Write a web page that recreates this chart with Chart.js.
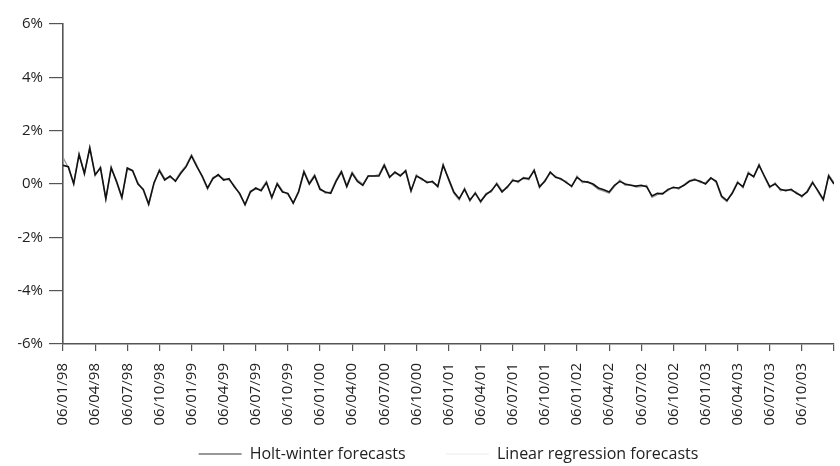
<!DOCTYPE html>
<html>
<head>
<meta charset="utf-8">
<script src="https://cdn.jsdelivr.net/npm/chart.js@4/dist/chart.umd.min.js"></script>
<style>
  html, body { margin: 0; padding: 0; background: #ffffff; }
  #wrap { width: 840px; height: 466px; }
</style>
</head>
<body>
<div id="wrap"><canvas id="c" width="840" height="466"></canvas></div>
<script>
// ---- data ----
const quarterLabels = [
  '06/01/98','06/04/98','06/07/98','06/10/98',
  '06/01/99','06/04/99','06/07/99','06/10/99',
  '06/01/00','06/04/00','06/07/00','06/10/00',
  '06/01/01','06/04/01','06/07/01','06/10/01',
  '06/01/02','06/04/02','06/07/02','06/10/02',
  '06/01/03','06/04/03','06/07/03','06/10/03'
];
const pointsPerQuarter = 6;
const yTicks = [-6, -4, -2, 0, 2, 4, 6];
const seriesNames = ['Holt-winter forecasts', 'Linear regression forecasts'];

const holtWinter = [
  0.7, 0.65, 0.0, 1.1, 0.4, 1.35,
  0.35, 0.6, -0.55, 0.6, 0.1, -0.5,
  0.6, 0.5, 0.0, -0.2, -0.75, 0.05,
  0.5, 0.15, 0.3, 0.1, 0.4, 0.65,
  1.05, 0.65, 0.3, -0.15, 0.2, 0.35,
  0.15, 0.2, -0.1, -0.35, -0.78, -0.3,
  -0.15, -0.25, 0.05, -0.5, 0.0, -0.3,
  -0.35, -0.72, -0.3, 0.45, 0.0, 0.3,
  -0.2, -0.3, -0.35, 0.1, 0.45, -0.1,
  0.4, 0.1, -0.05, 0.3, 0.3, 0.3,
  0.7, 0.25, 0.45, 0.3, 0.5, -0.25,
  0.3, 0.2, 0.05, 0.1, -0.1, 0.7,
  0.2, -0.3, -0.55, -0.2, -0.6, -0.35,
  -0.65, -0.4, -0.25, 0.0, -0.3, -0.1,
  0.13, 0.1, 0.22, 0.2, 0.5, -0.1,
  0.1, 0.45, 0.25, 0.2, 0.05, -0.08,
  0.25, 0.1, 0.07, 0.0, -0.15, -0.22,
  -0.3, -0.05, 0.1, 0.0, -0.05, -0.08,
  -0.05, -0.1, -0.45, -0.35, -0.37, -0.2,
  -0.13, -0.15, -0.05, 0.1, 0.16, 0.1,
  0.0, 0.22, 0.1, -0.45, -0.62, -0.35,
  0.05, -0.1, 0.4, 0.28, 0.7, 0.3,
  -0.1, 0.0, -0.2, -0.25, -0.2, -0.35,
  -0.45, -0.3, 0.05, -0.25, -0.58, 0.3,
  0.0
];
const linearRegression = [
  1.0, 0.6, 0.05, 1.15, 0.35, 1.4,
  0.3, 0.65, -0.6, 0.65, 0.05, -0.55,
  0.55, 0.5, 0.05, -0.25, -0.8, 0.0,
  0.55, 0.2, 0.25, 0.15, 0.45, 0.7,
  1.1, 0.7, 0.25, -0.2, 0.25, 0.3,
  0.2, 0.15, -0.05, -0.4, -0.75, -0.25,
  -0.2, -0.2, 0.1, -0.55, 0.05, -0.25,
  -0.4, -0.7, -0.25, 0.5, 0.05, 0.35,
  -0.15, -0.35, -0.3, 0.15, 0.5, -0.05,
  0.45, 0.15, 0.0, 0.3, 0.3, 0.35,
  0.75, 0.3, 0.4, 0.35, 0.45, -0.3,
  0.35, 0.15, 0.1, 0.05, -0.05, 0.75,
  0.15, -0.35, -0.6, -0.15, -0.65, -0.3,
  -0.7, -0.35, -0.3, 0.05, -0.25, -0.15,
  0.18, 0.05, 0.25, 0.15, 0.55, -0.15,
  0.15, 0.4, 0.3, 0.15, 0.1, -0.12,
  0.3, 0.05, 0.1, -0.05, -0.2, -0.27,
  -0.35, -0.1, 0.15, -0.05, -0.02, -0.12,
  -0.1, -0.05, -0.5, -0.4, -0.33, -0.25,
  -0.1, -0.2, -0.02, 0.13, 0.2, 0.05,
  0.05, 0.25, 0.05, -0.5, -0.66, -0.3,
  0.1, -0.15, 0.45, 0.25, 0.75, 0.25,
  -0.15, 0.05, -0.25, -0.2, -0.25, -0.3,
  -0.5, -0.25, 0.1, -0.3, -0.62, 0.35,
  0.05
];

// ---- chart ----
const toPoints = arr => arr.map((v, i) => ({ x: i / pointsPerQuarter, y: v }));
const FAMILY = "'Open Sans', 'DejaVu Sans', sans-serif";
const TICK_FONT = { family: FAMILY, size: 15 };
const LEGEND_FONT = { family: FAMILY, size: 16 };
const AXIS = '#555555';
const TEXT = '#222222';

new Chart(document.getElementById('c'), {
  type: 'line',
  data: {
    datasets: [
      {
        label: seriesNames[0],
        data: toPoints(holtWinter),
        borderColor: '#111111',
        backgroundColor: '#111111',
        borderWidth: 1.6,
        pointRadius: 0,
        tension: 0,
        order: 1
      },
      {
        label: seriesNames[1],
        data: toPoints(linearRegression),
        borderColor: '#9a9a9a',
        backgroundColor: '#9a9a9a',
        borderWidth: 1.3,
        pointRadius: 0,
        tension: 0,
        order: 2
      }
    ]
  },
  options: {
    responsive: false,
    animation: false,
    layout: { padding: { left: 18, right: 6, top: 24, bottom: -6 } },
    plugins: {
      tooltip: { enabled: false },
      legend: {
        position: 'bottom',
        fullSize: false,
        labels: {
          font: LEGEND_FONT,
          color: TEXT,
          boxWidth: 43,
          boxHeight: 1,
          padding: 3,
          generateLabels: (chart) => chart.data.datasets.map((ds, i) => ({
            text: i === 0 ? ds.label + '\u2003\u2003\u2009\u2009' : ds.label,
            fillStyle: i === 0 ? '#333333' : '#ececec',
            strokeStyle: i === 0 ? '#333333' : '#ececec',
            lineWidth: 0,
            hidden: false,
            datasetIndex: i,
            fontColor: TEXT
          }))
        }
      }
    },
    scales: {
      x: {
        type: 'linear',
        min: 0,
        max: quarterLabels.length,
        afterFit: (s) => { s.height = 99; s.paddingLeft = 0; s.paddingRight = 0; },
        afterBuildTicks: (s) => {
          s.ticks = Array.from({ length: quarterLabels.length + 1 }, (_, i) => ({ value: i }));
        },
        ticks: {
          autoSkip: false,
          maxRotation: 90,
          minRotation: 90,
          padding: 12,
          font: TICK_FONT,
          color: TEXT,
          callback: (v) => quarterLabels[v] !== undefined ? quarterLabels[v] : ''
        },
        grid: { drawOnChartArea: false, drawTicks: true, tickLength: 7, color: AXIS, lineWidth: 1.2 },
        border: { display: true, color: AXIS, width: 1.6 }
      },
      y: {
        type: 'linear',
        min: -6,
        max: 6,
        afterFit: (s) => { s.width = 45; },
        afterBuildTicks: (s) => { s.ticks = yTicks.map(v => ({ value: v })); },
        ticks: {
          autoSkip: false,
          padding: 6,
          font: TICK_FONT,
          color: TEXT,
          callback: (v) => v + '%'
        },
        grid: { drawOnChartArea: false, drawTicks: true, tickLength: 14, color: AXIS, lineWidth: 1.2 },
        border: { display: true, color: AXIS, width: 1.6 }
      }
    }
  }
});
</script>
</body>
</html>
